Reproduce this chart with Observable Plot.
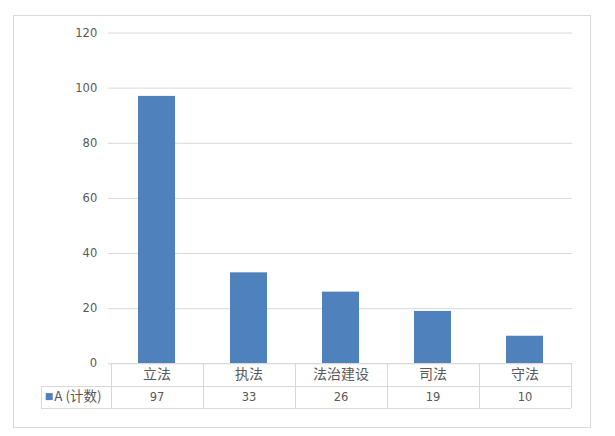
<!DOCTYPE html>
<html><head><meta charset="utf-8">
<script src="https://cdn.jsdelivr.net/npm/d3@7"></script>
<script src="https://cdn.jsdelivr.net/npm/@observablehq/plot@0.6"></script>
<style>
body{margin:0;background:#fff;}
#wrap{position:relative;width:615px;height:436px;}
#border{position:absolute;left:13px;top:15px;width:578px;height:413px;border:1px solid #D9D9D9;box-sizing:border-box;}
#chart{position:absolute;left:0;top:0;}
</style></head>
<body><div id="wrap"><div id="border"></div><div id="chart"></div></div>
<script>
const categories = ["立法", "执法", "法治建设", "司法", "守法"];
const values = [97, 33, 26, 19, 10];
const seriesName = "A (计数)";
const yTicks = [0, 20, 40, 60, 80, 100, 120];

const data = categories.map((c, i) => ({category: c, value: values[i]}));

const numFont = "DejaVu Sans, sans-serif";
const cjkFont = "'Noto Sans CJK SC', sans-serif";
const textColor = "#595959";
const lineColor = "#D9D9D9";
const barColor = "#4F81BD";

const chart = Plot.plot({
  width: 615, height: 436,
  marginLeft: 107.7, marginRight: 42.7, marginTop: 32.5, marginBottom: 72.7,
  style: {background: "transparent", overflow: "visible"},
  x: {domain: categories, paddingInner: 0.6, paddingOuter: 0.3, axis: null},
  y: {domain: [0, 120], axis: null},
  marks: [
    Plot.ruleY(yTicks, {stroke: lineColor, strokeWidth: 1}),
    Plot.barY(data, {x: "category", y: "value", fill: barColor}),
    Plot.axisY({ticks: yTicks, tickSize: 0, tickPadding: 11, fontSize: 11.5, fontFamily: numFont, fill: textColor, color: textColor, label: null}),
    Plot.text(categories, {x: d => d, frameAnchor: "bottom", dy: 10.5, text: d => d, fontSize: 14, fontFamily: cjkFont, fill: textColor, lineAnchor: "middle"}),
    Plot.text(data, {x: "category", frameAnchor: "bottom", dy: 33.3, text: d => String(d.value), fontSize: 11.5, fontFamily: numFont, fill: textColor, lineAnchor: "middle"})
  ]
});
document.getElementById("chart").appendChild(chart);

// data table grid lines, positioned from Plot's own scales
const sx = chart.scale("x");
const sy = chart.scale("y");
const gap = (sx.step - sx.bandwidth) / 2;
const bounds = categories.map(c => sx.apply(c) - gap);
bounds.push(sx.apply(categories[categories.length - 1]) + sx.bandwidth + gap);
const yTop = sy.apply(0);
const rowH = 22.2;
const legendLeft = 40.7;
const right = bounds[bounds.length - 1];
const svg = d3.select(chart);
const g = svg.append("g").attr("stroke", lineColor).attr("stroke-width", 1).attr("shape-rendering", "crispEdges");
const r = v => Math.round(v) + 0.5;
g.append("line").attr("x1", bounds[0]).attr("x2", right).attr("y1", r(yTop)).attr("y2", r(yTop));
g.append("line").attr("x1", legendLeft).attr("x2", right).attr("y1", r(yTop + rowH)).attr("y2", r(yTop + rowH));
g.append("line").attr("x1", legendLeft).attr("x2", right).attr("y1", r(yTop + 2 * rowH)).attr("y2", r(yTop + 2 * rowH));
bounds.forEach(b => g.append("line").attr("x1", r(b)).attr("x2", r(b)).attr("y1", yTop).attr("y2", yTop + 2 * rowH));
g.append("line").attr("x1", r(legendLeft)).attr("x2", r(legendLeft)).attr("y1", yTop + rowH).attr("y2", yTop + 2 * rowH);

// legend key in the table
const rowMid = yTop + rowH * 1.5;
svg.append("rect").attr("x", 45.7).attr("y", rowMid - 3.5).attr("width", 7).attr("height", 7).attr("fill", barColor);
svg.append("text").attr("x", 54.3).attr("y", rowMid).attr("dy", "0.35em").attr("text-anchor", "start")
  .attr("font-family", cjkFont).attr("font-size", 13.5).attr("fill", textColor).text(seriesName);
</script>
</body></html>
